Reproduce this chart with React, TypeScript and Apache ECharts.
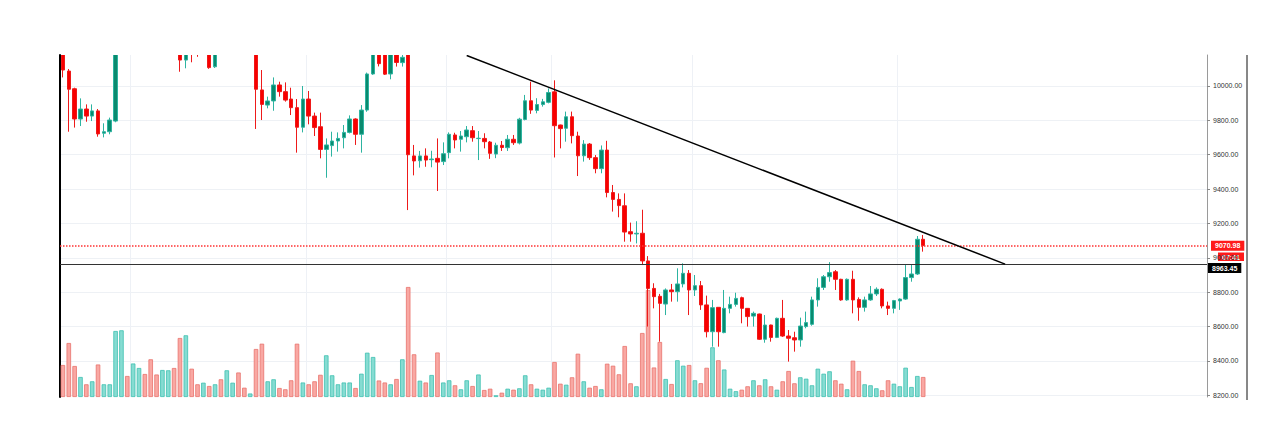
import React, { useEffect, useRef } from "react";
import * as echarts from "echarts";

// ---- data ----
const SLOTS = 196; // category slots across the plot (candles + empty right margin)

// [open, close, low, high]
const candles: number[][] = [
  [10230, 10093, 10050, 10240], [10087, 9981, 9734, 10099], [9984, 9808, 9758, 9990], [9808, 9866, 9767, 9928],
  [9866, 9825, 9792, 9893], [9825, 9855, 9796, 9893], [9855, 9721, 9705, 9866], [9725, 9734, 9701, 9783],
  [9734, 9802, 9719, 9816], [9796, 10260, 9789, 10280], [10260, 10330, 10240, 10360], [10330, 10280, 10250, 10350],
  [10280, 10340, 10260, 10370], [10340, 10400, 10320, 10430], [10400, 10350, 10330, 10420], [10350, 10290, 10270, 10380],
  [10290, 10240, 10215, 10310], [10240, 10290, 10225, 10310], [10290, 10320, 10270, 10350], [10320, 10260, 10230, 10340],
  [10220, 10151, 10083, 10240], [10151, 10220, 10103, 10240], [10220, 10190, 10138, 10240], [10200, 10185, 10170, 10230],
  [10190, 10240, 10185, 10260], [10240, 10107, 10100, 10260], [10112, 10230, 10105, 10250], [10260, 10220, 10200, 10280],
  [10220, 10280, 10210, 10300], [10280, 10310, 10260, 10330], [10310, 10250, 10230, 10330], [10250, 10220, 10200, 10270],
  [10220, 10240, 10205, 10260], [10250, 9981, 9750, 10260], [9977, 9893, 9802, 10093], [9889, 9913, 9870, 9938],
  [9913, 10006, 9856, 10050], [10006, 9967, 9938, 10025], [9967, 9918, 9909, 10021], [9924, 9874, 9831, 9990],
  [9874, 9760, 9612, 9924], [9760, 9924, 9730, 10000], [9924, 9825, 9777, 9971], [9825, 9758, 9709, 9845],
  [9763, 9631, 9579, 9845], [9631, 9657, 9466, 9695], [9653, 9680, 9589, 9734], [9680, 9695, 9618, 9730],
  [9699, 9730, 9637, 9773], [9730, 9808, 9724, 9829], [9808, 9719, 9657, 9812], [9719, 9860, 9612, 9889],
  [9860, 10070, 9850, 10078], [10070, 10210, 10065, 10230], [10210, 10130, 10114, 10230], [10200, 10069, 10064, 10220],
  [10070, 10200, 10039, 10230], [10200, 10137, 10113, 10220], [10136, 10167, 10113, 10200], [10200, 9600, 9278, 10220],
  [9593, 9564, 9480, 9657], [9565, 9593, 9525, 9622], [9593, 9569, 9530, 9637], [9571, 9575, 9527, 9623],
  [9579, 9557, 9389, 9695], [9560, 9606, 9540, 9672], [9612, 9719, 9579, 9730], [9715, 9686, 9637, 9728],
  [9690, 9709, 9618, 9738], [9705, 9744, 9672, 9767], [9740, 9699, 9676, 9767], [9694, 9696, 9569, 9738],
  [9695, 9676, 9637, 9725], [9674, 9608, 9576, 9680], [9604, 9655, 9580, 9670], [9655, 9642, 9622, 9680],
  [9641, 9690, 9622, 9715], [9690, 9670, 9657, 9715], [9668, 9807, 9660, 9815], [9805, 9914, 9800, 9948],
  [9914, 9860, 9838, 10025], [9858, 9892, 9841, 9929], [9892, 9908, 9880, 9925], [9905, 9962, 9899, 9986],
  [9966, 9769, 9584, 10033], [9773, 9752, 9637, 9775], [9754, 9821, 9676, 9851], [9821, 9711, 9666, 9851],
  [9709, 9594, 9476, 9734], [9594, 9662, 9560, 9685], [9662, 9583, 9570, 9668], [9583, 9519, 9492, 9598],
  [9519, 9627, 9492, 9654], [9627, 9380, 9352, 9681], [9380, 9340, 9269, 9424], [9340, 9304, 9236, 9375],
  [9303, 9150, 9094, 9375], [9152, 9139, 9094, 9205], [9139, 9143, 9084, 9213], [9143, 8982, 8958, 9280],
  [8982, 8822, 8600, 9010], [8822, 8774, 8706, 8852], [8776, 8735, 8512, 8790], [8731, 8813, 8667, 8822],
  [8813, 8803, 8745, 8848], [8803, 8848, 8745, 8939], [8848, 8910, 8828, 8968], [8910, 8813, 8667, 8929],
  [8813, 8838, 8778, 8900], [8838, 8726, 8697, 8865], [8726, 8570, 8537, 8780], [8570, 8710, 8483, 8755],
  [8712, 8570, 8483, 8712], [8565, 8706, 8561, 8813], [8706, 8729, 8677, 8774], [8729, 8764, 8716, 8797],
  [8768, 8706, 8619, 8774], [8706, 8658, 8600, 8708], [8661, 8677, 8600, 8687], [8673, 8526, 8522, 8675],
  [8526, 8609, 8506, 8667], [8609, 8537, 8512, 8611], [8537, 8648, 8533, 8652], [8648, 8545, 8540, 8755],
  [8545, 8532, 8396, 8580], [8535, 8522, 8454, 8570], [8522, 8603, 8483, 8652], [8600, 8623, 8590, 8687],
  [8613, 8755, 8605, 8774], [8755, 8828, 8716, 8881], [8828, 8890, 8813, 8900], [8890, 8914, 8861, 8975],
  [8919, 8875, 8813, 8929], [8875, 8755, 8750, 8878], [8755, 8875, 8750, 8880], [8875, 8755, 8677, 8925],
  [8758, 8712, 8634, 8770], [8712, 8755, 8687, 8774], [8755, 8790, 8750, 8836], [8790, 8817, 8778, 8828],
  [8817, 8720, 8706, 8822], [8720, 8706, 8667, 8745], [8706, 8751, 8677, 8755], [8749, 8760, 8697, 8764],
  [8760, 8885, 8755, 8958], [8885, 8906, 8861, 8964], [8906, 9108, 8900, 9127], [9108, 9070.98, 9036, 9133],
];

// volume (relative units)
const volumes: number[] = [
  32, 54, 31, 20, 12.7, 15.7, 32.5, 12.7, 12.7, 66, 66.7, 21, 33.5, 29, 23, 37.7, 22.5, 27, 26.7, 29,
  59, 61.7, 28.3, 12.7, 14.3, 11, 12.7, 17.7, 26.7, 14.3, 24.5, 9.3, 3.5, 48, 53.3, 15.7, 17.7, 9, 7.7, 16.7,
  53.3, 14.5, 12.7, 15.7, 22.2, 41.7, 21.7, 12.7, 14.5, 14.5, 9, 23.3, 44.3, 40, 16.5, 14.5, 12.7, 18, 37.7, 110,
  42.7, 16.3, 14.5, 22, 44.5, 14.5, 16.7, 11.7, 7.7, 16.7, 11, 22.5, 7, 8.3, 1.7, 4.3, 8.3, 7.3, 8.7, 21.7,
  12.7, 8.3, 7.3, 9.3, 35, 13.3, 12.3, 19.7, 43.3, 15.7, 9.3, 11, 7.7, 33.3, 31.3, 22.7, 51, 13.7, 10.7, 64,
  107, 29.5, 55, 18, 13, 36.7, 31.3, 32, 16.7, 13.8, 29.2, 49.7, 36.7, 27.5, 8.3, 5.8, 7.3, 10.7, 16.7, 11.7,
  17.7, 10.7, 7.3, 15.7, 26, 13.7, 19.7, 18.3, 11.7, 28.3, 23.3, 25.7, 16.7, 13.3, 7.7, 36.3, 26, 12.7, 11.7, 8.7,
  6.7, 16.7, 13.3, 10.7, 29.3, 10, 21, 20,
];

const priceTicks = [8200, 8400, 8600, 8800, 9000, 9200, 9400, 9600, 9800, 10000];
const priceMin = 8190.1;
const priceMax = 10180.4;
const volumeMax = 342;
const lastPrice = 9070.98;
const levelPrice = 8963.45;
const trendStart = [69, 10177.5];
const trendEnd = [161, 8963.45];
const dayLines = [12, 42, 66, 84, 108, 143];
const countdown = "07:41";

const UP = "#0a8a6e";
const UP_BORDER = "#2db4a1";
const DOWN = "#f80000";
const DOWN_BORDER = "#ee1a1a";
const VOL_UP = "#86dcd2";
const VOL_UP_B = "#3fc0b1";
const VOL_DOWN = "#f9a8a3";
const VOL_DOWN_B = "#e9736d";

export default function App() {
  const ref = useRef<HTMLDivElement>(null);

  useEffect(() => {
    document.body.style.margin = "0";
    if (!ref.current) return;
    const chart = echarts.init(ref.current, undefined, { renderer: "svg" });
    const cats = Array.from({ length: SLOTS }, (_, i) => String(i));
    const daySet = new Set(dayLines);

    const volData = volumes.map((v, i) => {
      const c = candles[i];
      const up = c[1] >= c[0];
      return {
        value: v,
        itemStyle: {
          color: up ? VOL_UP : VOL_DOWN,
          borderColor: up ? VOL_UP_B : VOL_DOWN_B,
          borderWidth: 0.8,
        },
      };
    });

    const labelBase = {
      show: true,
      position: "end",
      color: "#fff",
      fontSize: 7,
      fontWeight: "bold",
      fontFamily: "Liberation Sans",
      padding: [2, 4, 1, 4],
    };

    chart.setOption({
      animation: false,
      grid: { left: 60, right: 67, top: 55, bottom: 25 },
      xAxis: {
        type: "category",
        data: cats,
        boundaryGap: true,
        axisLine: { show: false },
        axisTick: { show: false },
        axisLabel: { show: false },
        splitLine: {
          show: true,
          interval: (i: number) => daySet.has(i),
          lineStyle: { color: "#eef1f6", width: 1 },
        },
      },
      yAxis: [
        {
          type: "value",
          position: "right",
          min: priceMin,
          max: priceMax,
          splitNumber: 10,
          axisLine: { show: true, lineStyle: { color: "#9a9a9a", width: 1 } },
          axisTick: { show: true, length: 3, lineStyle: { color: "#888" }, customValues: priceTicks },
          axisLabel: {
            show: true,
            customValues: priceTicks,
            formatter: (v: number) => v.toFixed(2),
            fontSize: 7,
            color: "#333",
            fontFamily: "Liberation Sans",
            margin: 6,
          },
          splitLine: { show: true, lineStyle: { color: "#eef1f5" } },
        },
        {
          type: "value",
          position: "left",
          min: 0,
          max: volumeMax,
          axisLine: { show: true, lineStyle: { color: "#000", width: 2 } },
          axisTick: { show: false },
          axisLabel: { show: false },
          splitLine: { show: false },
        },
      ],
      series: [
        {
          type: "bar",
          yAxisIndex: 1,
          data: volData,
          barWidth: 4.5,
          z: 1,
          silent: true,
        },
        {
          type: "candlestick",
          yAxisIndex: 0,
          data: candles,
          barWidth: 4,
          z: 3,
          clip: true,
          itemStyle: {
            color: UP,
            color0: DOWN,
            borderColor: UP_BORDER,
            borderColor0: DOWN_BORDER,
            borderWidth: 1,
          },
          markLine: {
            silent: true,
            symbol: ["none", "none"],
            animation: false,
            data: [
              {
                yAxis: levelPrice,
                lineStyle: { color: "#333", width: 1, type: "solid" },
                label: { ...labelBase, formatter: levelPrice.toFixed(2), backgroundColor: "#000", distance: 1, offset: [0, 4] },
              },
              {
                yAxis: lastPrice,
                lineStyle: { color: "#f33", width: 1.5, type: "dotted" },
                label: { ...labelBase, formatter: lastPrice.toFixed(2), backgroundColor: "#ff1a1a", distance: 4 },
              },
              [
                { coord: trendStart, lineStyle: { color: "#000", width: 1.5, type: "solid" }, label: { show: false } },
                { coord: trendEnd },
              ],
            ],
          },
        },
      ],
      graphic: [
        {
          // white mask: candles above the plot's top edge are cut off, as in the reference
          type: "rect",
          z: 50,
          silent: true,
          shape: { x: 61, y: 0, width: 1145, height: 55 },
          style: { fill: "#fff" },
        },
        {
          type: "line",
          z: 60,
          shape: { x1: 1247, y1: 55, x2: 1247, y2: 400 },
          style: { stroke: "#111", lineWidth: 1 },
        },
        {
          type: "group",
          x: 1218,
          y: 252.5,
          z: 100,
          children: [
            { type: "rect", shape: { x: 0, y: 0, width: 26, height: 8.5 }, style: { fill: "#ff1a1a" } },
            {
              type: "text",
              x: 13,
              y: 4.5,
              style: {
                text: countdown,
                fill: "#fff",
                font: "bold 7px 'Liberation Sans'",
                align: "center",
                verticalAlign: "middle",
              },
            },
          ],
        },
      ],
    });

    return () => chart.dispose();
  }, []);

  return <div ref={ref} style={{ width: 1274, height: 422 }} />;
}
